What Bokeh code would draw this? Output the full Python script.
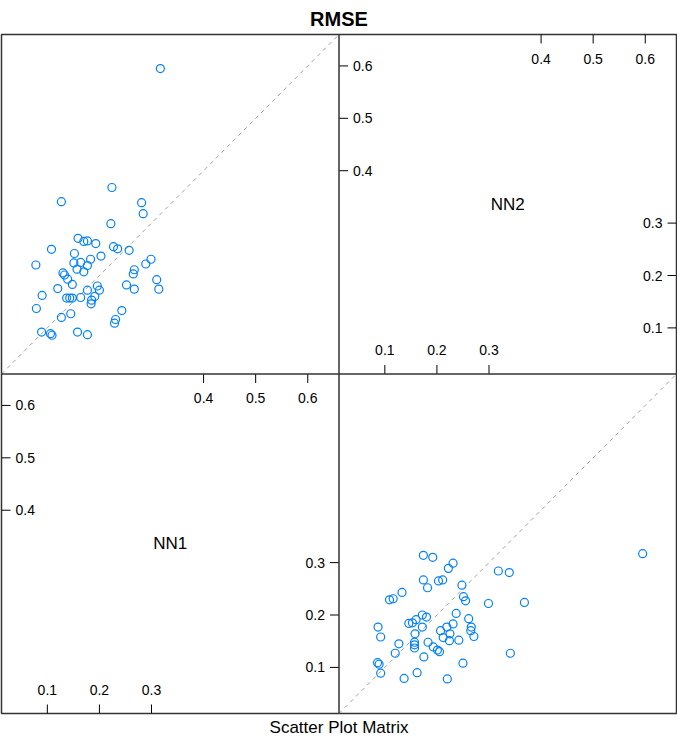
from bokeh.plotting import figure
from bokeh.models import Range1d, Span, Title
from bokeh.core.properties import value
from bokeh.embed import file_html
from bokeh.resources import INLINE

# ---- data ----
nn1 = [0.224, 0.127, 0.281, 0.284, 0.222, 0.159, 0.170, 0.177, 0.193, 0.108,
       0.227, 0.235, 0.257, 0.152, 0.203, 0.078, 0.151, 0.164, 0.183, 0.177,
       0.157, 0.170, 0.289, 0.299, 0.130, 0.133, 0.139, 0.148, 0.267, 0.265,
       0.310, 0.314, 0.252, 0.267, 0.196, 0.200, 0.177, 0.120, 0.090, 0.137,
       0.143, 0.148, 0.164, 0.191, 0.185, 0.184, 0.079, 0.243, 0.145, 0.127,
       0.231, 0.229, 0.089, 0.106, 0.109, 0.158, 0.177, 0.317]
nn2 = [0.368, 0.341, 0.339, 0.318, 0.299, 0.271, 0.265, 0.266, 0.261, 0.250,
       0.255, 0.251, 0.248, 0.242, 0.237, 0.220, 0.224, 0.225, 0.231, 0.219,
       0.212, 0.207, 0.222, 0.231, 0.205, 0.201, 0.193, 0.183, 0.211, 0.203,
       0.192, 0.174, 0.182, 0.174, 0.180, 0.172, 0.172, 0.175, 0.162, 0.157,
       0.157, 0.157, 0.158, 0.160, 0.153, 0.146, 0.137, 0.133, 0.127, 0.120,
       0.116, 0.109, 0.092, 0.089, 0.086, 0.092, 0.087, 0.595]
var_names = ["NN1", "NN2"]
lower_ticks = [0.1, 0.2, 0.3]
upper_ticks = [0.4, 0.5, 0.6]
lim = (0.012, 0.660)

# ---- layout ----
FRAME_W = 675
HEIGHT = 738
TOP = 28
lo, hi = lim
span = hi - lo
est_frame_h = HEIGHT - TOP - 31
tlx = 9 / ((FRAME_W / 2) / span)
tly = 9 / ((est_frame_h / 2) / span)

FONT = "Liberation Sans"
BLUE = "#0080ff"
BORDER = "#333333"

p = figure(width=FRAME_W + 2, height=HEIGHT, output_backend="svg",
           toolbar_location=None, x_axis_location=None, y_axis_location=None,
           x_range=Range1d(lo, lo + 2 * span), y_range=Range1d(lo, lo + 2 * span),
           min_border_left=1, min_border_right=1, min_border_top=TOP,
           min_border_bottom=10)
p.extra_x_ranges = {"c2": Range1d(lo - span, hi)}
p.extra_y_ranges = {"r1": Range1d(lo - span, hi)}
p.grid.visible = False
p.outline_line_color = BORDER
p.outline_line_width = 1.5
p.background_fill_color = "white"
p.border_fill_color = "white"

p.title.text = "RMSE"
p.title.align = "center"
p.title.text_font = FONT
p.title.text_font_size = "20px"
p.title.text_font_style = "bold"
p.title.text_color = "black"
p.title.standoff = 10

bottom = Title(text="Scatter Plot Matrix", align="center", text_font=FONT,
               text_font_size="17px", text_font_style="normal", text_color="black",
               standoff=4)
p.add_layout(bottom, "below")

# panel dividers
p.add_layout(Span(location=hi, dimension="height", line_color=BORDER, line_width=1.5))
p.add_layout(Span(location=hi, dimension="width", line_color=BORDER, line_width=1.5))

# off-diagonal panels: reference line + points
diag = dict(line_color="#a0a0a0", line_dash="4 4", line_width=1)
p.line([lo, hi], [lo, hi], y_range_name="r1", **diag)
p.line([lo, hi], [lo, hi], x_range_name="c2", **diag)

pts = dict(marker="circle", size=8, fill_color=None, line_color=BLUE, line_width=1.2)
p.scatter(nn1, nn2, y_range_name="r1", **pts)      # top-left: x=NN1, y=NN2
p.scatter(nn2, nn1, x_range_name="c2", **pts)      # bottom-right: x=NN2, y=NN1

# diagonal panels: variable name + axis ticks
def diag_panel(name, xr, yr):
    kw = {}
    if xr:
        kw["x_range_name"] = xr
    if yr:
        kw["y_range_name"] = yr
    mid = (lo + hi) / 2
    p.text([mid], [mid], text=[name], text_align="center", text_baseline="middle",
           text_font=value(FONT), text_font_size="17px", text_color="black", **kw)
    seg = dict(line_color="black", line_width=1)
    lab = dict(text_font=value(FONT), text_font_size="14px", text_color="black")
    n = len(lower_ticks)
    m = len(upper_ticks)
    lt = [str(t) for t in lower_ticks]
    ut = [str(t) for t in upper_ticks]
    # bottom (lower ticks)
    p.segment(lower_ticks, [lo] * n, lower_ticks, [lo + tly] * n, **seg, **kw)
    p.text(lower_ticks, [lo] * n, text=lt, text_align="center", text_baseline="middle",
           y_offset=-24, **lab, **kw)
    # top (upper ticks)
    p.segment(upper_ticks, [hi] * m, upper_ticks, [hi - tly] * m, **seg, **kw)
    p.text(upper_ticks, [hi] * m, text=ut, text_align="center", text_baseline="middle",
           y_offset=24, **lab, **kw)
    # left (upper ticks)
    p.segment([lo] * m, upper_ticks, [lo + tlx] * m, upper_ticks, **seg, **kw)
    p.text([lo] * m, upper_ticks, text=ut, text_align="left", text_baseline="middle",
           x_offset=14, **lab, **kw)
    # right (lower ticks)
    p.segment([hi] * n, lower_ticks, [hi - tlx] * n, lower_ticks, **seg, **kw)
    p.text([hi] * n, lower_ticks, text=lt, text_align="right", text_baseline="middle",
           x_offset=-14, **lab, **kw)

diag_panel(var_names[0], None, None)      # bottom-left
diag_panel(var_names[1], "c2", "r1")      # top-right

open("out.html", "w").write(file_html(p, INLINE))
